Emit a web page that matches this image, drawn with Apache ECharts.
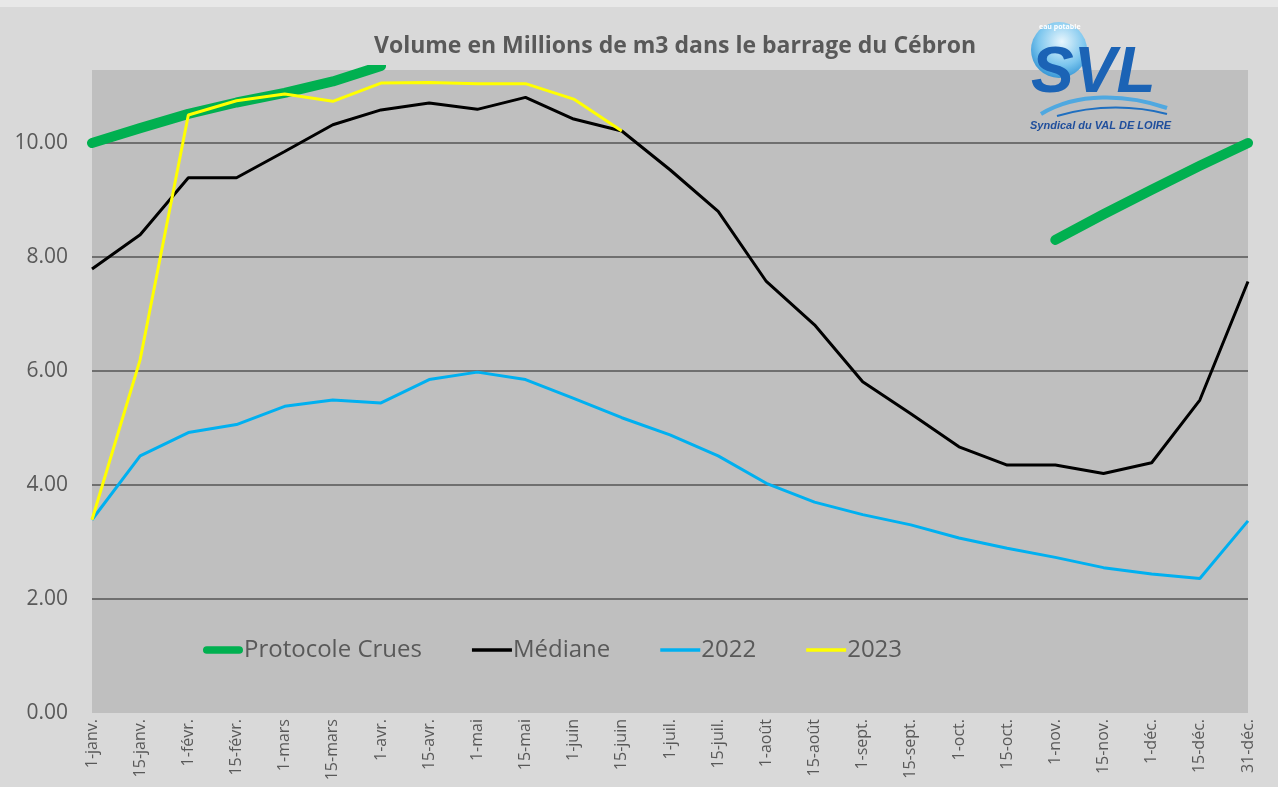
<!DOCTYPE html>
<html>
<head>
<meta charset="utf-8">
<script src="https://cdn.jsdelivr.net/npm/echarts@6/dist/echarts.min.js"></script>
<style>
html,body{margin:0;padding:0;background:#e6e6e6;}
#chart{width:1278px;height:787px;}
</style>
</head>
<body>
<div id="chart"></div>
<script>
const categories = ['1-janv.','15-janv.','1-févr.','15-févr.','1-mars','15-mars','1-avr.','15-avr.','1-mai','15-mai','1-juin','15-juin','1-juil.','15-juil.','1-août','15-août','1-sept.','15-sept.','1-oct.','15-oct.','1-nov.','15-nov.','1-déc.','15-déc.','31-déc.'];
const protocoleCrues = [10.0,10.26,10.51,10.71,10.88,11.08,11.35,null,null,null,null,null,null,null,null,null,null,null,null,null,8.30,8.75,9.18,9.60,10.0];
const mediane = [7.79,8.39,9.39,9.39,9.85,10.32,10.58,10.70,10.59,10.80,10.42,10.21,9.53,8.80,7.57,6.81,5.81,5.25,4.67,4.35,4.35,4.20,4.39,5.49,7.57];
const y2022 = [3.39,4.51,4.92,5.06,5.38,5.49,5.44,5.85,5.98,5.85,5.52,5.18,4.88,4.51,4.03,3.70,3.48,3.30,3.07,2.89,2.73,2.55,2.44,2.36,3.37];
const y2023 = [3.39,6.2,10.49,10.74,10.86,10.73,11.05,11.06,11.04,11.04,10.77,10.21,null,null,null,null,null,null,null,null,null,null,null,null,null];
const seriesNames = ['Protocole Crues','Médiane','2022','2023'];
const titleText = 'Volume en Millions de m3 dans le barrage du Cébron';

const chart = echarts.init(document.getElementById('chart'));
const FONT = '"Open Sans", sans-serif';
const grey = '#595959';
const thinIcon = 'path://M0,0H36V3H0Z';
const thickIcon = 'path://M4,0H38A4,4 0 0 1 38,8H4A4,4 0 0 1 4,0Z';
chart.setOption({
  backgroundColor: '#d9d9d9',
  animation: false,
  title: {
    text: titleText, left: 670, top: 30, textAlign: 'center',
    textStyle: {fontFamily: FONT, fontSize: 23, fontWeight: 'bold', color: grey}
  },
  grid: {left: 92, right: 30, top: 70, bottom: 74, show: true, backgroundColor: '#bfbfbf', borderWidth: 0},
  legend: {
    left: 198, top: 633, itemGap: 50, itemWidth: 40, itemHeight: 14,
    textStyle: {fontFamily: FONT, fontSize: 24, color: grey, padding: [0, 0, 0, -4]},
    data: [
      {name: seriesNames[0], icon: thickIcon},
      {name: seriesNames[1], icon: thinIcon},
      {name: seriesNames[2], icon: thinIcon},
      {name: seriesNames[3], icon: thinIcon}
    ]
  },
  xAxis: {
    type: 'category', data: categories, boundaryGap: false,
    axisLine: {show: false}, axisTick: {show: false},
    axisLabel: {rotate: 90, fontFamily: FONT, fontSize: 16, color: grey, margin: 6, interval: 0}
  },
  yAxis: {
    type: 'value', min: 0, max: 11.28, interval: 2,
    axisLine: {show: false}, axisTick: {show: false},
    axisLabel: {fontFamily: FONT, fontSize: 21, color: grey, margin: 24, showMaxLabel: false, formatter: v => v.toFixed(2)},
    splitLine: {show: true, showMinLine: false, showMaxLine: false, lineStyle: {color: '#555555', width: 1.5}}
  },
  series: [
    {name: seriesNames[0], type: 'line', data: protocoleCrues, showSymbol: false, symbol: 'none', connectNulls: false, clip: true,
     lineStyle: {color: '#00b050', width: 10, cap: 'round', join: 'round'}, itemStyle: {color: '#00b050'}},
    {name: seriesNames[1], type: 'line', data: mediane, showSymbol: false, symbol: 'none',
     lineStyle: {color: '#000000', width: 3}, itemStyle: {color: '#000000'}},
    {name: seriesNames[2], type: 'line', data: y2022, showSymbol: false, symbol: 'none',
     lineStyle: {color: '#00b0f0', width: 3}, itemStyle: {color: '#00b0f0'}},
    {name: seriesNames[3], type: 'line', data: y2023, showSymbol: false, symbol: 'none', clip: true,
     lineStyle: {color: '#ffff00', width: 3}, itemStyle: {color: '#ffff00'}}
  ],
  graphic: [
    {type: 'rect', left: 0, top: 0, shape: {width: 1278, height: 7}, style: {fill: '#e8e8e8'}, silent: true},
    {type: 'group', left: 1030, top: 22, children: [
      {type: 'circle', shape: {cx: 32, cy: 30, r: 28},
       style: {fill: new echarts.graphic.RadialGradient(0.55, 0.35, 0.7, [{offset: 0, color: '#e8f6fd'}, {offset: 0.6, color: '#7cc6ee'}, {offset: 1, color: '#2b8fd2'}])}},
      {type: 'text', x: 12, y: 3, style: {text: 'eau potable', font: 'bold 7px "Open Sans"', fill: '#ffffff'}},
      {type: 'text', x: 4, y: 22, style: {text: 'SVL', font: 'italic bold 64px "Liberation Sans Narrow", "Liberation Sans"', fill: '#1b63b5'}},
      {type: 'bezierCurve', shape: {x1: 14, y1: 94, x2: 140, y2: 88, cpx1: 50, cpy1: 72, cpx2: 100, cpy2: 74},
       style: {stroke: '#4fa8e0', lineWidth: 4, fill: null}},
      {type: 'bezierCurve', shape: {x1: 30, y1: 96, x2: 140, y2: 94, cpx1: 70, cpy1: 84, cpx2: 110, cpy2: 86},
       style: {stroke: '#1f6fc0', lineWidth: 2, fill: null}},
      {type: 'text', x: 3, y: 100, style: {text: 'Syndical du VAL DE LOIRE', font: 'italic bold 11px "Liberation Sans"', fill: '#1f4e9c'}}
    ]}
  ]
});
</script>
</body>
</html>
